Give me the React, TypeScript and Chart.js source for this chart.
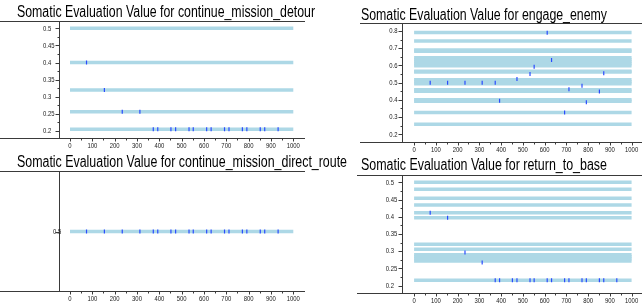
import React, { useEffect, useRef } from "react";
import { Chart, registerables } from "chart.js";
Chart.register(...registerables);

// ---------- data ----------
const xTickValues = [0, 100, 200, 300, 400, 500, 600, 700, 800, 900, 1000];
const xMinorTicks = [50, 150, 250, 350, 450, 550, 650, 750, 850, 950];
const markerX = [74, 154, 234, 313, 373, 393, 452, 473, 533, 552, 612, 632, 692, 712, 772, 792, 852, 872, 932];

// continue_mission_detour
const detourBands = [0.5, 0.4, 0.32, 0.256, 0.2048];
const detourValues = [0.4, 0.32, 0.256, 0.256, 0.2048, 0.2048, 0.2048, 0.2048, 0.2048, 0.2048, 0.2048, 0.2048, 0.2048, 0.2048, 0.2048, 0.2048, 0.2048, 0.2048, 0.2048];
const detourYTicks = [0.2, 0.25, 0.3, 0.35, 0.4, 0.45, 0.5];
const detourYMinor = [0.225, 0.275, 0.325, 0.375, 0.425, 0.475];

// engage_enemy
const engageX = [74, 154, 234, 313, 373, 393, 473, 533, 552, 612, 632, 692, 712, 772, 792, 852, 872];
const engageValues = [0.5, 0.5, 0.5, 0.5, 0.5, 0.395, 0.521, 0.55, 0.593, 0.79, 0.632, 0.326, 0.461, 0.482, 0.386, 0.448, 0.554];
const engageBands = [0.792, 0.742, 0.69, 0.682, 0.645, 0.633, 0.621, 0.61, 0.598, 0.566, 0.562, 0.517, 0.505, 0.494, 0.459, 0.45, 0.401, 0.392, 0.326, 0.258];
const engageYTicks = [0.2, 0.3, 0.4, 0.5, 0.6, 0.7, 0.8];
const engageYMinor = [0.25, 0.35, 0.45, 0.55, 0.65, 0.75];

// continue_mission_direct_route
const directBands = [0.5];
const directValues = [0.5, 0.5, 0.5, 0.5, 0.5, 0.5, 0.5, 0.5, 0.5, 0.5, 0.5, 0.5, 0.5, 0.5, 0.5, 0.5, 0.5, 0.5, 0.5];
const directYTicks = [0.5];
const directYMinor: number[] = [];

// return_to_base
const baseBands = [0.5, 0.48, 0.454, 0.434, 0.412, 0.397, 0.32, 0.306, 0.29, 0.284, 0.278, 0.272, 0.216];
const baseValues = [0.412, 0.397, 0.296, 0.267, 0.216, 0.216, 0.216, 0.216, 0.216, 0.216, 0.216, 0.216, 0.216, 0.216, 0.216, 0.216, 0.216, 0.216, 0.216];
const baseYTicks = [0.2, 0.25, 0.3, 0.35, 0.4, 0.45, 0.5];
const baseYMinor = [0.225, 0.275, 0.325, 0.375, 0.425, 0.475];

// ---------- style / layout ----------
const W = 642;
const H = 306;
const BAND = "#add8e6";
const MARK = "#2a4bff";
const LINE = "#3a3a3a";
const FONT_FAMILY = '"Liberation Sans", Arial, sans-serif';
const TITLE_FONT = "16px " + FONT_FAMILY;
const TICK_FONT = "8px " + FONT_FAMILY;
const TICK_SCALE = 0.74;
const X_H = 20;

type Panel = {
  title: string;
  titleX: number;
  titleBaseline: number;
  titleWidth: number;
  frameX0: number;
  frameX1: number;
  labelLeft: number;
  area: { left: number; right: number; top: number; bottom: number };
  xA: [number, number, number, number];
  yA: [number, number, number, number];
  yTicks: number[];
  yMinor: number[];
  bands: number[];
  px: number[];
  py: number[];
};

const panels: Panel[] = [
  {
    title: "Somatic Evaluation Value for continue_mission_detour",
    titleX: 17, titleBaseline: 16.5, titleWidth: 298, frameX0: 0, frameX1: 305, labelLeft: 43,
    area: { left: 59.5, right: 304, top: 21.5, bottom: 138.5 },
    xA: [0, 70, 1000, 293.3], yA: [0.5, 28.3, 0.2, 131],
    yTicks: detourYTicks, yMinor: detourYMinor, bands: detourBands, px: markerX, py: detourValues,
  },
  {
    title: "Somatic Evaluation Value for engage_enemy",
    titleX: 361, titleBaseline: 19.5, titleWidth: 246, frameX0: 360, frameX1: 642, labelLeft: 389.3,
    area: { left: 402.5, right: 641, top: 23.5, bottom: 142.5 },
    xA: [0, 414.3, 1000, 635.7], yA: [0.8, 31, 0.2, 134.3],
    yTicks: engageYTicks, yMinor: engageYMinor, bands: engageBands, px: engageX, py: engageValues,
  },
  {
    title: "Somatic Evaluation Value for continue_mission_direct_route",
    titleX: 17, titleBaseline: 166.5, titleWidth: 330, frameX0: 0, frameX1: 305, labelLeft: 53,
    area: { left: 59.5, right: 304, top: 171.5, bottom: 291.5 },
    xA: [0, 70, 1000, 293.3], yA: [0.6, 171.5, 0.4, 291.5],
    yTicks: directYTicks, yMinor: directYMinor, bands: directBands, px: markerX, py: directValues,
  },
  {
    title: "Somatic Evaluation Value for return_to_base",
    titleX: 361, titleBaseline: 169.5, titleWidth: 246, frameX0: 357, frameX1: 642, labelLeft: 385.7,
    area: { left: 402.5, right: 641, top: 175.5, bottom: 293.5 },
    xA: [0, 414.3, 1000, 635.7], yA: [0.5, 182.3, 0.2, 285.7],
    yTicks: baseYTicks, yMinor: baseYMinor, bands: baseBands, px: markerX, py: baseValues,
  },
];

const valueAt = (a: [number, number, number, number], pix: number) =>
  a[0] + ((pix - a[1]) * (a[2] - a[0])) / (a[3] - a[1]);

function drawScaledText(
  ctx: CanvasRenderingContext2D,
  text: string,
  x: number,
  y: number,
  sx: number,
  align: "left" | "center"
) {
  const w = ctx.measureText(text).width * sx;
  const x0 = align === "center" ? x - w / 2 : x;
  ctx.save();
  ctx.translate(x0, y);
  ctx.scale(sx, 1);
  ctx.textAlign = "left";
  ctx.fillText(text, 0, 0);
  ctx.restore();
}

const makeFramePlugin = (p: Panel) => ({
  id: "frame",
  afterDraw(chart: any) {
    const ctx = chart.ctx as CanvasRenderingContext2D;
    const a = chart.chartArea;
    const ys = chart.scales.y;
    const xs = chart.scales.x;
    const top = Math.floor(a.top) + 0.5;
    const bot = Math.floor(a.bottom) + 0.5;
    const left = Math.floor(a.left) + 0.5;
    ctx.save();
    ctx.strokeStyle = LINE;
    ctx.lineWidth = 1;
    ctx.beginPath();
    ctx.moveTo(p.frameX0, top);
    ctx.lineTo(p.frameX1, top);
    ctx.moveTo(p.frameX0, bot);
    ctx.lineTo(p.frameX1, bot);
    ctx.moveTo(left, top);
    ctx.lineTo(left, bot);
    for (const v of p.yTicks) {
      const y = Math.round(ys.getPixelForValue(v)) + 0.5;
      ctx.moveTo(left - 4, y);
      ctx.lineTo(left, y);
    }
    for (const v of p.yMinor) {
      const y = Math.round(ys.getPixelForValue(v)) + 0.5;
      ctx.moveTo(left - 2, y);
      ctx.lineTo(left, y);
    }
    for (const v of xTickValues) {
      const x = Math.round(xs.getPixelForValue(v)) + 0.5;
      ctx.moveTo(x, bot);
      ctx.lineTo(x, bot + 3);
    }
    for (const v of xMinorTicks) {
      const x = Math.round(xs.getPixelForValue(v)) + 0.5;
      ctx.moveTo(x, bot);
      ctx.lineTo(x, bot + 2);
    }
    ctx.stroke();

    // tick labels
    ctx.fillStyle = "#222";
    ctx.font = TICK_FONT;
    ctx.textBaseline = "middle";
    for (const v of p.yTicks) {
      drawScaledText(ctx, String(v), p.labelLeft, ys.getPixelForValue(v), TICK_SCALE, "left");
    }
    for (const v of xTickValues) {
      drawScaledText(ctx, String(v), xs.getPixelForValue(v), bot + 7, TICK_SCALE, "center");
    }

    // title
    ctx.fillStyle = "#000";
    ctx.font = TITLE_FONT;
    ctx.textBaseline = "alphabetic";
    const tw = ctx.measureText(p.title).width;
    drawScaledText(ctx, p.title, p.titleX, p.titleBaseline, p.titleWidth / tw, "left");
    ctx.restore();
  },
});

function PanelChart({ p }: { p: Panel }) {
  const ref = useRef<HTMLCanvasElement>(null);
  useEffect(() => {
    if (!ref.current) return;
    const a = p.area;
    const yW = a.left - p.labelLeft;
    const datasets: any[] = [
      {
        data: p.px.map((x, i) => ({ x, y: p.py[i] })),
        pointStyle: "line",
        rotation: 90,
        radius: 2,
        borderColor: MARK,
        backgroundColor: MARK,
        borderWidth: 1.2,
        showLine: false,
        order: 0,
      },
      ...p.bands.map((v) => ({
        data: [
          { x: 0, y: v },
          { x: 1000, y: v },
        ],
        showLine: true,
        borderColor: BAND,
        borderWidth: 3.5,
        borderCapStyle: "butt",
        pointRadius: 0,
        order: 1,
      })),
    ];
    const chart = new Chart(ref.current, {
      type: "scatter",
      data: { datasets },
      options: {
        responsive: false,
        animation: false,
        devicePixelRatio: 1,
        events: [],
        layout: {
          padding: { left: p.labelLeft, right: W - a.right, top: a.top, bottom: H - a.bottom - X_H },
        },
        plugins: { legend: { display: false }, tooltip: { enabled: false }, title: { display: false } },
        scales: {
          x: {
            type: "linear",
            min: valueAt(p.xA, a.left),
            max: valueAt(p.xA, a.right),
            grid: { display: false },
            border: { display: false },
            afterBuildTicks: (s: any) => {
              s.ticks = xTickValues.map((v) => ({ value: v }));
            },
            afterFit: (s: any) => {
              s.height = X_H;
              s.paddingLeft = 0;
              s.paddingRight = 0;
            },
            ticks: { display: false, autoSkip: false, maxRotation: 0, minRotation: 0 },
          },
          y: {
            type: "linear",
            min: valueAt(p.yA, a.bottom),
            max: valueAt(p.yA, a.top),
            grid: { display: false },
            border: { display: false },
            afterBuildTicks: (s: any) => {
              s.ticks = p.yTicks.map((v) => ({ value: v }));
            },
            afterFit: (s: any) => {
              s.width = yW;
              s.paddingTop = 0;
              s.paddingBottom = 0;
            },
            ticks: { display: false, autoSkip: false },
          },
        },
      } as any,
      plugins: [makeFramePlugin(p)],
    });
    return () => chart.destroy();
  }, [p]);
  return (
    <canvas
      ref={ref}
      width={W}
      height={H}
      style={{ position: "absolute", left: 0, top: 0, width: W, height: H }}
    />
  );
}

export default function App() {
  return (
    <div
      style={{
        position: "fixed",
        left: 0,
        top: 0,
        width: W,
        height: H,
        overflow: "hidden",
        background: "#fff",
      }}
    >
      {panels.map((p, i) => (
        <PanelChart key={i} p={p} />
      ))}
    </div>
  );
}
